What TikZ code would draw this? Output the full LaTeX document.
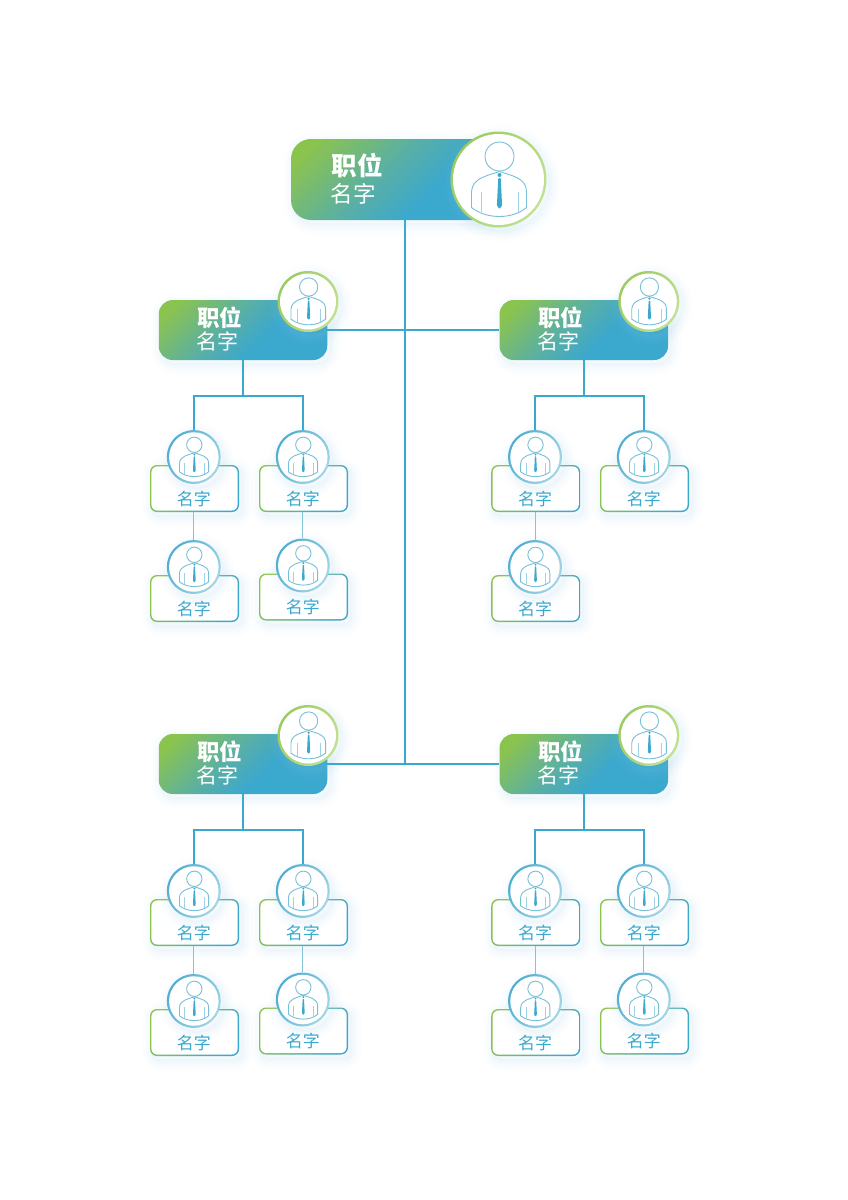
\documentclass[tikz,border=0pt]{standalone}
\usepackage{fontspec}
\newfontfamily\cjk{Noto Sans CJK SC}
\definecolor{leafgreen}{HTML}{8BC34F}
\definecolor{seablue}{HTML}{3BA8CE}
\definecolor{midteal}{HTML}{58AFA6}
\definecolor{ringgreen}{HTML}{9CCB5E}
\definecolor{ringpale}{HTML}{C2E194}
\definecolor{ringblue}{HTML}{4FADD0}
\definecolor{ringsky}{HTML}{A3D6E6}
\definecolor{iconline}{HTML}{78BFD9}
\definecolor{thinlink}{HTML}{84C3D8}
\definecolor{glowblue}{HTML}{9AD3EE}
\pgfdeclareverticalshading{barfade}{100bp}{color(0bp)=(seablue); color(41bp)=(seablue); color(56bp)=(midteal); color(79bp)=(leafgreen); color(100bp)=(leafgreen)}
\tikzset{
  glow/.style={
    preaction={draw=glowblue,draw opacity=.04,line width=20pt,transform canvas={shift={(3pt,-4pt)}}},
    preaction={draw=glowblue,draw opacity=.04,line width=13pt,transform canvas={shift={(3pt,-4pt)}}},
    preaction={draw=glowblue,draw opacity=.05,line width=7pt,transform canvas={shift={(3pt,-4pt)}}},
    preaction={draw=glowblue,draw opacity=.05,line width=2pt,transform canvas={shift={(3pt,-4pt)}}}},
  barbox/.style={inner sep=0,rounded corners=#1,shade,shading=barfade,shading angle=45},
  cardedge/.style={inner sep=0,rounded corners=7pt,minimum width=89pt,minimum height=47pt,
    left color=leafgreen,middle color=seablue!70!leafgreen,right color=seablue,shading angle=60,glow},
  cardfill/.style={inner sep=0,rounded corners=6pt,minimum width=86.2pt,minimum height=44.2pt,fill=white},
  ringbig/.style={circle,inner sep=0,minimum size=#1,left color=ringgreen,right color=ringpale,shading angle=60,glow},
  ringsmall/.style={circle,inner sep=0,minimum size=#1,left color=ringblue,right color=ringsky,shading angle=60,glow},
  disc/.style={circle,inner sep=0,minimum size=#1,fill=white},
  link/.style={draw=seablue,line width=1.6pt},
  sublink/.style={draw=thinlink,line width=1pt},
  person/.pic={
    \draw[iconline,line width=.9pt] (1,-23) circle (14.5);
    \draw[iconline,line width=.9pt] (-27,28) -- (-27,12) .. controls (-26,-2) and (-10,-4) .. (1,-8)
      .. controls (12,-4) and (28,-2) .. (28,12) -- (28,28) .. controls (14,40) and (-12,40) .. cycle;
    \draw[iconline!70!white,line width=.9pt] (-17,12) -- (-17,32) (19.5,12) -- (19.5,32);
    \fill[seablue] (1,-4.5) circle (2);
    \fill[seablue,rounded corners=.8pt] (-.2,-1.5) -- (2.2,-1.5) -- (3.6,26) -- (1,29.5) -- (-1.6,26) -- cycle;
  }
}
% lead box: name, x, y
\newcommand{\leadcard}[3]{
  \node[barbox=14pt,minimum width=168.5pt,minimum height=60pt,glow] (#1) at (#2,#3) {};
  \node[ringbig=61pt] (#1r) at (#2+65,#3-28.5) {};
  \node[disc=56pt] at (#1r) {};
  \pic[scale=.63] at (#1r) {person};
  \node[anchor=west,inner sep=0,white] (#1t) at (#2-46,#3-12.5) {\cjk\fontsize{22.5}{24}\selectfont\bfseries 职位};
  \node[anchor=west,inner sep=0,white] (#1n) at (#2-46.5,#3+11) {\cjk\fontsize{21}{24}\selectfont 名字};
}
% staff card: name, x, y of the ring
\newcommand{\staffcard}[3]{
  \node[cardedge] (#1b) at (#2+.7,#3+31.5) {};
  \node[cardfill] at (#1b) {};
  \node[ringsmall=54pt] (#1) at (#2,#3) {};
  \node[disc=49.5pt] at (#1) {};
  \pic[scale=.53] at (#1) {person};
  \node[inner sep=0,seablue] (#1n) at (#2,#3+41.5) {\cjk\fontsize{17}{20}\selectfont 名字};
}
\begin{document}
\begin{tikzpicture}[x=1pt,y=-1pt]
  \useasboundingbox (0,0) rectangle (848,1200);
  \fill[white] (0,0) rectangle (848,1200);
  % top
  \node[barbox=20pt,minimum width=228pt,minimum height=81pt,glow] (boss) at (405,179.5) {};
  \node[ringbig=96pt] (bossr) at (498.5,179.5) {};
  \node[disc=91pt] at (bossr) {};
  \pic at (bossr) {person};
  \node[anchor=west,inner sep=0,white] (bosst) at (331.5,165.5) {\cjk\fontsize{25.5}{28}\selectfont\bfseries 职位};
  \node[anchor=west,inner sep=0,white] (bossn) at (330.5,194) {\cjk\fontsize{22.5}{26}\selectfont 名字};
  % leads
  \leadcard{leadA}{243}{330}
  \leadcard{leadB}{583.8}{330}
  \leadcard{leadC}{243}{764}
  \leadcard{leadD}{583.8}{764}
  % staff
  \staffcard{a1}{193.8}{457}
  \staffcard{a2}{302.8}{457}
  \staffcard{a3}{193.8}{567}
  \staffcard{a4}{302.8}{565.5}
  \staffcard{b1}{535}{457}
  \staffcard{b2}{643.8}{457}
  \staffcard{b3}{535}{567}
  \staffcard{c1}{193.8}{891}
  \staffcard{c2}{302.8}{891}
  \staffcard{c3}{193.8}{1001}
  \staffcard{c4}{302.8}{999.5}
  \staffcard{d1}{535}{891}
  \staffcard{d2}{643.8}{891}
  \staffcard{d3}{535}{1001}
  \staffcard{d4}{643.8}{999.5}
  % links
  \draw[link] (boss.south) -- (boss.south |- leadC.east);
  \draw[link] (leadA.east) -- (leadB.west);
  \draw[link] (leadC.east) -- (leadD.west);
  \foreach \lead/\left/\right in {leadA/a1/a2,leadB/b1/b2,leadC/c1/c2,leadD/d1/d2}{
    \draw[link] (\lead.south) -- ++(0,36) -| (\left.north);
    \draw[link] (\lead.south) -- ++(0,36) -| (\right.north);
  }
  \foreach \upper/\lower in {a1/a3,a2/a4,b1/b3,c1/c3,c2/c4,d1/d3,d2/d4}
    \draw[sublink] (\lower.north |- \upper b.south) -- (\lower.north);
\end{tikzpicture}
\end{document}
